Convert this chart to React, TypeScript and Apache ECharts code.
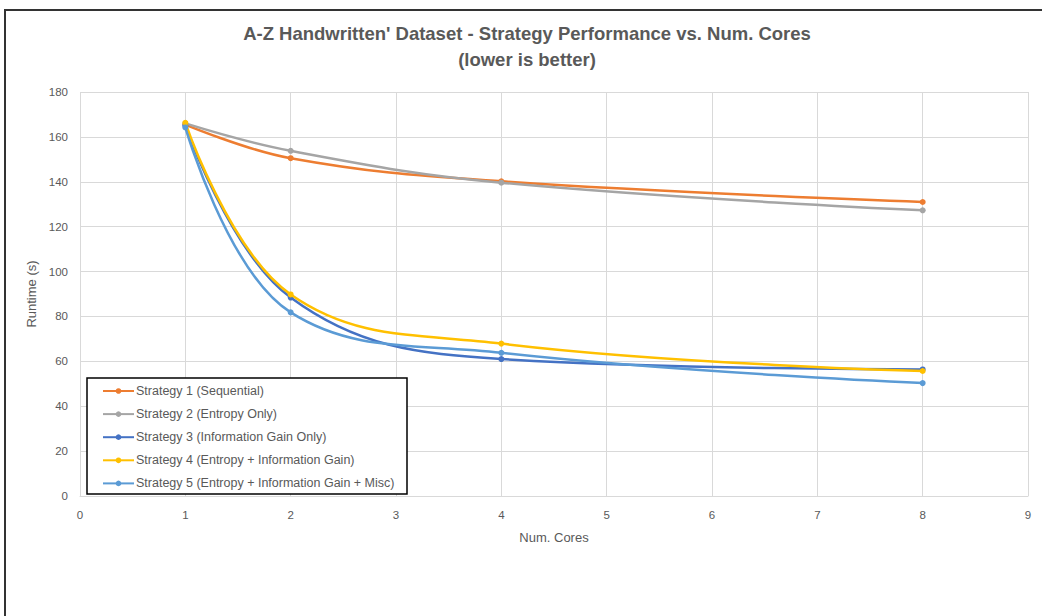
import React, { useEffect, useRef } from "react";
import * as echarts from "echarts";

const cores = [1, 2, 4, 8];
const seriesNames = [
  "Strategy 1 (Sequential)",
  "Strategy 2 (Entropy Only)",
  "Strategy 3 (Information Gain Only)",
  "Strategy 4 (Entropy + Information Gain)",
  "Strategy 5 (Entropy + Information Gain + Misc)",
];
const strategy1 = [165.5, 150.5, 140.2, 131];
const strategy2 = [166, 153.8, 139.6, 127.3];
const strategy3 = [165, 88.4, 61, 56.4];
const strategy4 = [166.3, 89.8, 67.9, 55.7];
const strategy5 = [164.2, 81.8, 63.8, 50.3];
const seriesValues = [strategy1, strategy2, strategy3, strategy4, strategy5];
const colors = ["#ED7D31", "#A5A5A5", "#4472C4", "#FFC000", "#5B9BD5"];

const titleLine1 = "A-Z Handwritten' Dataset - Strategy Performance vs. Num. Cores";
const titleLine2 = "(lower is better)";

const FONT = "'Liberation Sans', Arial, sans-serif";
const TEXT_GRAY = "#595959";

export default function App() {
  const ref = useRef<HTMLDivElement>(null);

  useEffect(() => {
    if (!ref.current) return;
    const chart = echarts.init(ref.current, undefined, { renderer: "svg" });

    const series = seriesNames.map((name, i) => ({
      name,
      type: "line",
      smooth: 0.4,
      data: cores.map((c, j) => [c, seriesValues[i][j]]),
      symbol: "circle",
      symbolSize: 6,
      lineStyle: { width: 2.5, color: colors[i] },
      itemStyle: { color: colors[i] },
      z: 2 + i * 0.01,
    }));

    chart.setOption({
      animation: false,
      backgroundColor: "#ffffff",
      grid: { left: 80, right: 14, top: 92, bottom: 120, containLabel: false },
      xAxis: {
        type: "value",
        min: 0,
        max: 9,
        interval: 1,
        name: "Num. Cores",
        nameLocation: "middle",
        nameGap: 35,
        nameTextStyle: { color: TEXT_GRAY, fontSize: 13, fontFamily: FONT },
        axisLine: { show: true, lineStyle: { color: "#d9d9d9", width: 1 } },
        axisTick: { show: false },
        axisLabel: { color: TEXT_GRAY, fontSize: 11.5, fontFamily: FONT, margin: 13 },
        splitLine: { show: true, lineStyle: { color: "#d9d9d9", width: 1 } },
      },
      yAxis: {
        type: "value",
        min: 0,
        max: 180,
        interval: 20,
        name: "Runtime (s)",
        nameLocation: "middle",
        nameGap: 41,
        nameRotate: 90,
        nameTextStyle: { color: TEXT_GRAY, fontSize: 13, fontFamily: FONT },
        axisLine: { show: false },
        axisTick: { show: false },
        axisLabel: { color: TEXT_GRAY, fontSize: 11.5, fontFamily: FONT, margin: 12 },
        splitLine: { show: true, lineStyle: { color: "#d9d9d9", width: 1 } },
      },
      legend: {
        orient: "vertical",
        left: 102,
        top: 384.5,
        itemWidth: 31,
        itemHeight: 7,
        itemGap: 10.1,
        padding: 0,
        data: seriesNames,
        textStyle: { color: TEXT_GRAY, fontSize: 12.5, fontFamily: FONT, padding: [0, 0, 0, -3] },
        z: 6,
      },
      graphic: [
        {
          type: "rect",
          shape: { x: 87, y: 378, width: 320, height: 116 },
          style: { fill: "#ffffff", stroke: "#000000", lineWidth: 1.5 },
          z: 5,
        },
        {
          type: "text",
          x: 527,
          y: 33,
          style: {
            text: titleLine1,
            fill: TEXT_GRAY,
            font: `bold 18.5px ${FONT}`,
            textAlign: "center",
            textVerticalAlign: "middle",
          },
        },
        {
          type: "text",
          x: 527,
          y: 59,
          style: {
            text: titleLine2,
            fill: TEXT_GRAY,
            font: `bold 18.5px ${FONT}`,
            textAlign: "center",
            textVerticalAlign: "middle",
          },
        },
        {
          type: "line",
          shape: { x1: 5, y1: 10, x2: 1042, y2: 10 },
          style: { stroke: "#333333", lineWidth: 2 },
        },
        {
          type: "line",
          shape: { x1: 5, y1: 9, x2: 5, y2: 616 },
          style: { stroke: "#333333", lineWidth: 2 },
        },
      ],
      series,
    });

    return () => chart.dispose();
  }, []);

  return (
    <div
      ref={ref}
      style={{ position: "fixed", left: 0, top: 0, width: 1042, height: 616 }}
    />
  );
}
